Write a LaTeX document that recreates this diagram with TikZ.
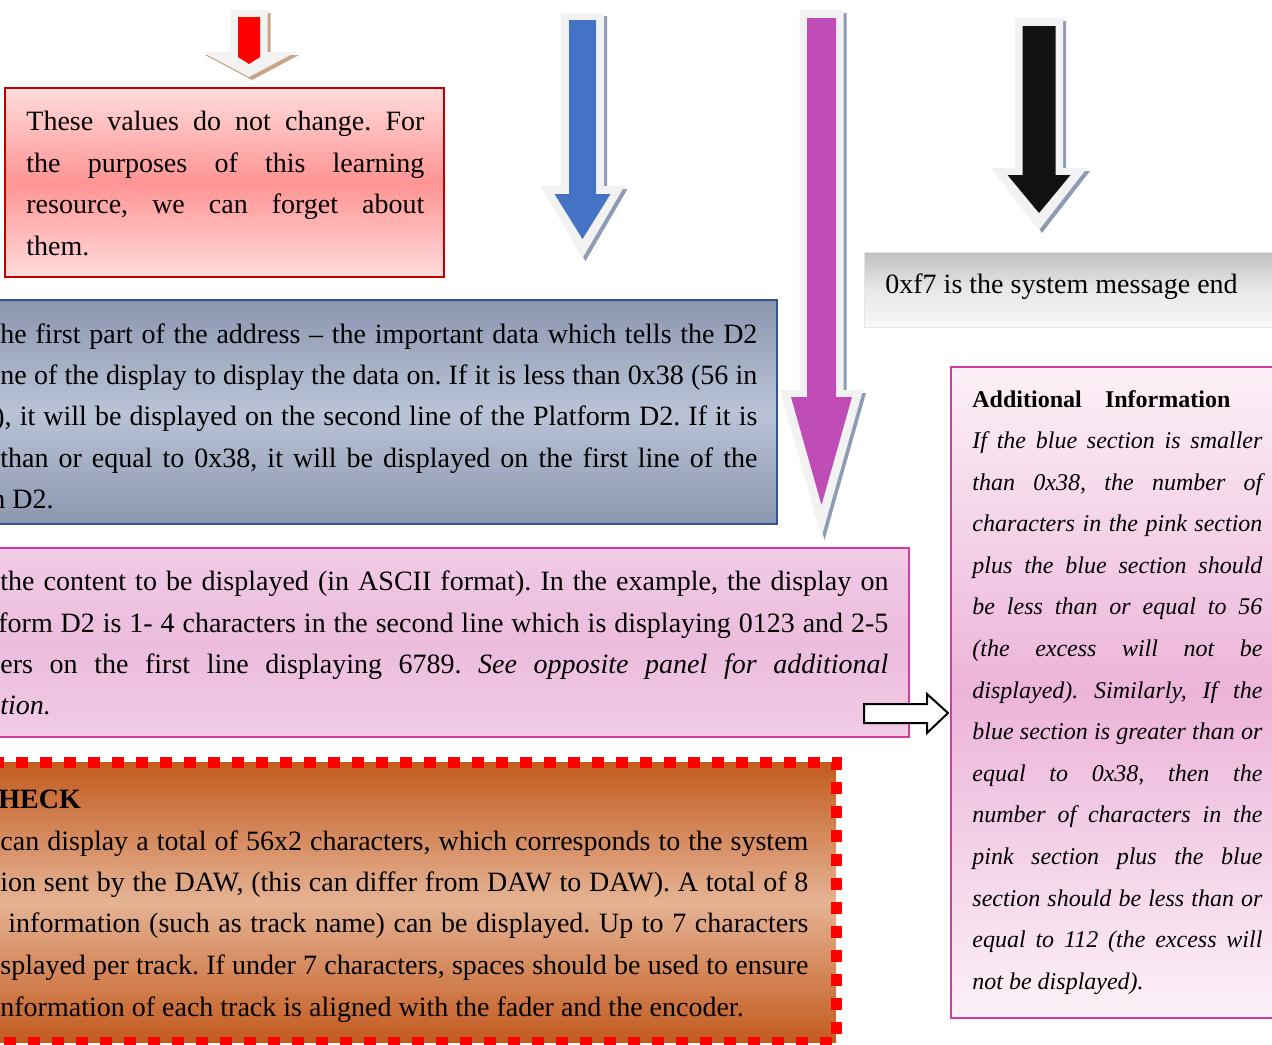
\documentclass[tikz,border=0pt]{standalone}
\usepackage{fontspec}
\setmainfont{Liberation Serif}
\frenchspacing
\definecolor{arrred}{HTML}{FF0000}
\definecolor{arrblue}{HTML}{4472C4}
\definecolor{arrpink}{HTML}{C04CB6}
\definecolor{arrblack}{HTML}{111111}
\definecolor{arrrim}{HTML}{F2F2F2}
\definecolor{shtan}{HTML}{C9A486}
\definecolor{shblue}{HTML}{8E9BB4}
\definecolor{redline}{HTML}{C00000}
\definecolor{blueline}{HTML}{2F5597}
\definecolor{pinkline}{HTML}{D33B9E}
\definecolor{dashred}{HTML}{FF0000}
\tikzset{
	txt/.style={anchor=base west, inner sep=0pt, font=\fontsize{14}{17}\selectfont},
	sidetxt/.style={txt, font=\fontsize{12}{15}\selectfont\itshape},
	panel/.style={anchor=north west, inner sep=0pt, outer sep=0pt, line width=1pt}
}
\begin{document}
\begin{tikzpicture}[x=0.5pt,y=-0.5pt]
	\useasboundingbox (0,0) rectangle (1272,1044);
	\clip (0,0) rectangle (1272,1044);
	\foreach \cx/\wa/\ta/\ba/\ha/\ya/\wb/\tb/\bb/\hb/\yb/\col/\shc in
		{249/18.5/10/52/47/77/11/17/57/11/64/arrred/shtan,
		582.5/21.5/13/186/42/258/13.5/20/194/28/239/arrblue/shblue,
		821.5/22/10/390/41.5/537/14.5/18/397/30.5/505/arrpink/shblue,
		1039/24/18/168/48/230/16.5/26/175/31.5/213/arrblack/shblue}
	{
		\fill[\shc,shift={(3,3)}] (\cx-\wa,\ta)--(\cx+\wa,\ta)--(\cx+\wa,\ba)--(\cx+\ha,\ba)
			--(\cx,\ya)--(\cx-\ha,\ba)--(\cx-\wa,\ba)--cycle;
		\fill[arrrim] (\cx-\wa,\ta)--(\cx+\wa,\ta)--(\cx+\wa,\ba)--(\cx+\ha,\ba)
			--(\cx,\ya)--(\cx-\ha,\ba)--(\cx-\wa,\ba)--cycle;
		\fill[\col] (\cx-\wb,\tb)--(\cx+\wb,\tb)--(\cx+\wb,\bb)--(\cx+\hb,\bb)
			--(\cx,\yb)--(\cx-\hb,\bb)--(\cx-\wb,\bb)--cycle;
	}
	\node[panel, draw=redline, top color=red!14, bottom color=red!14, middle color=red!42,
		minimum width=219.5pt, minimum height=94.5pt] (values) at (5,88) {};
	\node[panel, draw=blueline, line width=1.25pt, top color={rgb,255:red,140;green,150;blue,175},
		bottom color={rgb,255:red,140;green,150;blue,175}, middle color={rgb,255:red,186;green,195;blue,214},
		minimum width=393.5pt, minimum height=112pt] (address) at (-10,300) {};
	\node[panel, draw=pinkline, top color={rgb,255:red,241;green,203;blue,229},
		bottom color={rgb,255:red,241;green,203;blue,229}, middle color={rgb,255:red,236;green,188;blue,220},
		minimum width=459.5pt, minimum height=94.5pt] (content) at (-10,548) {};
	\node[panel, draw=black!10, line width=0.5pt, top color=black!25, bottom color=black!3,
		middle color=black!9, minimum width=213pt, minimum height=37.5pt] (msgend) at (864,252) {};
	\node[panel, draw=pinkline, top color={rgb,255:red,252;green,241;blue,247},
		bottom color={rgb,255:red,252;green,241;blue,247}, middle color={rgb,255:red,236;green,180;blue,217},
		minimum width=169.5pt, minimum height=325.5pt] (addinfo) at (951,367) {};
	\node[panel, draw=dashred, line width=5.5pt, dash pattern=on 6pt off 6pt,
		top color={rgb,255:red,195;green,91;blue,32}, bottom color={rgb,255:red,195;green,91;blue,32},
		middle color={rgb,255:red,229;green,179;blue,148},
		minimum width=428pt, minimum height=140pt] (check) at (-20,762) {};
	\draw[line width=1pt, fill=white] (864,704)--(927,704)--(927,694)--(948,713)
		--(927,733)--(927,723)--(864,723)--cycle;
	\foreach \n/\y/\t in {1/130/{These values do not change. For},
		2/172/{the purposes of this learning}, 3/213/{resource, we can forget about}}
	\node[txt] (values\n) at (26,\y) {\makebox[199pt][s]{\t}};
	\node[txt] (values4) at (26,255) {them.};
	\foreach \n/\y/\t in {1/343/{he first part of the address -- the important data which tells the D2},
		2/384/{ne of the display to display the data on. If it is less than 0x38 (56 in},
		3/425/{\kern-2.5pt), it will be displayed on the second line of the Platform D2. If it is},
		4/467/{than or equal to 0x38, it will be displayed on the first line of the}}
	\node[txt] (address\n) at (0,\y) {\makebox[378.5pt][s]{\t}};
	\node[txt] (address5) at (0,508) {\kern-4.5pt n D2.};
	\foreach \n/\y/\t in {1/590/{the content to be displayed (in ASCII format). In the example, the display on},
		2/632/{\kern-1pt form D2 is 1- 4 characters in the second line which is displaying 0123 and 2-5},
		3/673/{ers on the first line displaying 6789. \textit{See opposite panel for additional}}}
	\node[txt] (content\n) at (0,\y) {\makebox[444pt][s]{\t}};
	\node[txt] (content4) at (0,714) {\textit{tion.}};
	\node[txt] (msgtext) at (885,293) {0xf7 is the system message end};
	\node[txt, font=\fontsize{12}{15}\selectfont\bfseries] (infohead) at (972,407)
		{\makebox[129pt][s]{Additional Information}};
	\foreach \n/\t in {0/{If the blue section is smaller}, 1/{than 0x38, the number of},
		2/{characters in the pink section}, 3/{plus the blue section should},
		4/{be less than or equal to 56}, 5/{(the excess will not be},
		6/{displayed). Similarly, If the}, 7/{blue section is greater than or},
		8/{equal to 0x38, then the}, 9/{number of characters in the},
		10/{pink section plus the blue}, 11/{section should be less than or},
		12/{equal to 112 (the excess will}}
	\node[sidetxt] (info\n) at (972,448.5+41.6*\n) {\makebox[145pt][s]{\t}};
	\node[sidetxt] (info13) at (972,989.3) {not be displayed).};
	\node[txt, font=\fontsize{14}{17}\selectfont\bfseries] (checkhead) at (-2,808) {HECK};
	\foreach \n/\x/\y/\w/\t in {1/0/850/404pt/{can display a total of 56x2 characters, which corresponds to the system},
		2/0/891/404pt/{ion sent by the DAW, (this can differ from DAW to DAW). A total of 8},
		3/8/932/400pt/{information (such as track name) can be displayed. Up to 7 characters},
		4/0/974/404pt/{splayed per track. If under 7 characters, spaces should be used to ensure}}
	\node[txt] (check\n) at (\x,\y) {\makebox[\w][s]{\t}};
	\node[txt] (check5) at (0,1016) {nformation of each track is aligned with the fader and the encoder.};
\end{tikzpicture}
\end{document}
